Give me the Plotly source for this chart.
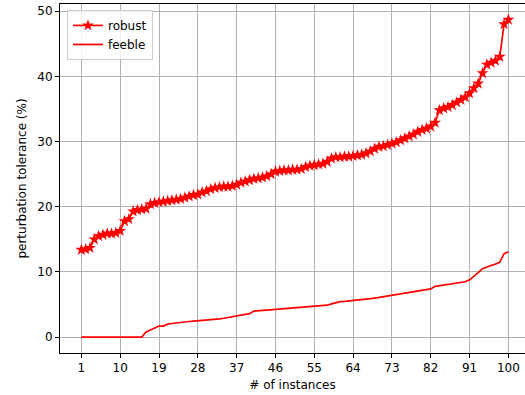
import plotly.graph_objects as go

instances = list(range(1, 101))

robust = [13.4, 13.5, 13.7, 15.0, 15.5, 15.7, 15.9, 15.9, 16.0, 16.3,
          17.8, 18.1, 19.3, 19.5, 19.6, 19.7, 20.4, 20.6, 20.7, 20.8,
          20.9, 21.0, 21.1, 21.2, 21.4, 21.6, 21.8, 21.9, 22.2, 22.4,
          22.7, 22.9, 23.0, 23.1, 23.1, 23.2, 23.4, 23.7, 23.9, 24.1,
          24.3, 24.4, 24.5, 24.7, 25.0, 25.4, 25.5, 25.6, 25.6, 25.7,
          25.7, 25.8, 26.1, 26.3, 26.4, 26.5, 26.6, 26.9, 27.4, 27.6,
          27.6, 27.7, 27.7, 27.8, 27.9, 28.0, 28.2, 28.5, 28.9, 29.2,
          29.3, 29.5, 29.7, 29.9, 30.2, 30.5, 30.8, 31.1, 31.5, 31.8,
          32.0, 32.3, 32.9, 34.8, 35.1, 35.3, 35.6, 36.0, 36.4, 36.8,
          37.4, 38.2, 38.9, 40.5, 41.8, 42.1, 42.4, 43.0, 48.0, 48.7]

feeble = [0, 0, 0, 0, 0, 0, 0, 0, 0, 0,
          0, 0, 0, 0, 0, 0.8, 1.1, 1.3, 1.7, 1.7,
          2.0, 2.1, 2.2, 2.3, 2.35, 2.4, 2.45, 2.5, 2.5, 2.55,
          2.6, 2.7, 2.8, 2.9, 3.0, 3.1, 3.2, 3.4, 3.5, 3.6,
          4.0, 4.1, 4.1, 4.15, 4.2, 4.25, 4.3, 4.35, 4.4, 4.4,
          4.45, 4.5, 4.55, 4.6, 4.65, 4.7, 4.8, 4.9, 5.1, 5.3,
          5.45, 5.5, 5.55, 5.6, 5.65, 5.7, 5.8, 5.9, 6.0, 6.1,
          6.3, 6.4, 6.5, 6.55, 6.7, 6.8, 6.9, 7.0, 7.1, 7.2,
          7.3, 7.4, 7.8, 7.9, 8.0, 8.1, 8.2, 8.3, 8.4, 8.5,
          8.8, 9.3, 9.9, 10.5, 10.8, 11.0, 11.2, 11.5, 12.8, 13.1]

x_ticks = [1, 10, 19, 28, 37, 46, 55, 64, 73, 82, 91, 100]
y_ticks = [0, 10, 20, 30, 40, 50]

fig = go.Figure()
fig.add_trace(go.Scatter(
    x=instances, y=robust, name="robust", mode="lines+markers",
    line=dict(color="red", width=1.7),
    marker=dict(symbol="star", size=9, color="red"),
    cliponaxis=False,
))
fig.add_trace(go.Scatter(
    x=instances, y=feeble, name="feeble", mode="lines",
    line=dict(color="red", width=1.7),
))

font = dict(family="DejaVu Sans", size=12, color="black")

fig.update_layout(
    width=525, height=395,
    margin=dict(l=60, r=0, t=4, b=42, autoexpand=False),
    paper_bgcolor="white", plot_bgcolor="white",
    font=font,
    showlegend=True,
    legend=dict(x=0.015, y=0.983, xanchor="left", yanchor="top",
                bgcolor="rgba(255,255,255,0.8)", bordercolor="#cccccc",
                borderwidth=1, font=dict(family="DejaVu Sans", size=12),
                tracegroupgap=0, itemwidth=30),
)
fig.update_xaxes(
    range=[-3.95, 103.85], tickvals=x_ticks, ticktext=[str(t) for t in x_ticks],
    showgrid=True, gridcolor="#b0b0b0", gridwidth=1,
    showline=True, linecolor="black", linewidth=1, mirror=True,
    ticks="outside", ticklen=4, tickcolor="black", zeroline=False,
    title=dict(text="# of instances", font=font, standoff=6),
    automargin=False,
)
fig.update_yaxes(
    range=[-2.43, 51.1], tickvals=y_ticks,
    showgrid=True, gridcolor="#b0b0b0", gridwidth=1,
    showline=True, linecolor="black", linewidth=1,
    ticks="outside", ticklen=4, tickcolor="black", zeroline=False,
    title=dict(text="perturbation tolerance (%)", font=font, standoff=8),
    automargin=False,
)

fig.write_html(
    "out.html",
    config={"displayModeBar": False},
    post_script="document.body.style.margin='0';document.body.style.overflow='hidden';",
)
